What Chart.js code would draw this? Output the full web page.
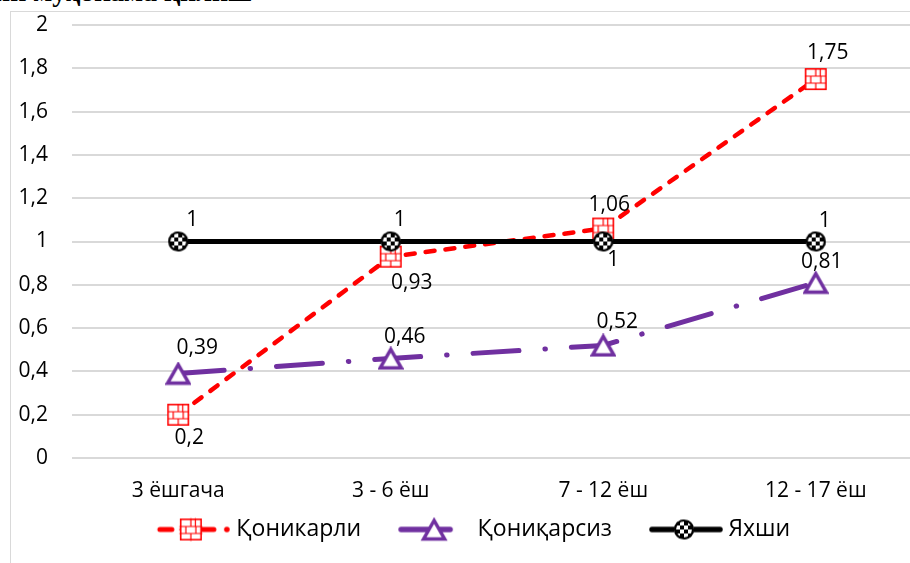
<!DOCTYPE html>
<html><head><meta charset="utf-8">
<script src="https://cdn.jsdelivr.net/npm/chart.js@4.4.1/dist/chart.umd.min.js"></script>
<style>
html,body{margin:0;padding:0;width:910px;height:563px;overflow:hidden;background:#fff;}
#title{position:absolute;left:-6px;top:-22px;font:bold 28px "Liberation Serif",serif;color:#000;white-space:nowrap;line-height:28px;}
#frame{position:absolute;left:10px;top:11px;width:960px;height:600px;border-left:1.5px solid #d9d9d9;border-top:1.5px solid #d9d9d9;}
#wrap{position:absolute;left:0;top:0;width:940px;height:563px;}
</style></head><body>
<div id="title">ни муҳокама қилиш</div>
<div id="frame"></div>
<div id="wrap"><canvas id="c" width="940" height="563"></canvas></div>
<script>
// ---- data ----
const categories = ['3 ёшгача', '3 - 6 ёш', '7 - 12 ёш', '12 - 17 ёш'];
const seriesNames = ['Қоникарли', 'Қониқарсиз', 'Яхши'];
const satisfactory = [0.2, 0.93, 1.06, 1.75];
const unsatisfactory = [0.39, 0.46, 0.52, 0.81];
const good = [1, 1, 1, 1];
const yTickLabels = ['0', '0,2', '0,4', '0,6', '0,8', '1', '1,2', '1,4', '1,6', '1,8', '2'];

const FONT = '"Open Sans", "Noto Sans", sans-serif';
const RED = '#ff0000', PURPLE = '#7030a0', BLACK = '#000000';

function mk(w, h) { const c = document.createElement('canvas'); c.width = w; c.height = h; return c; }

function drawRed(g, cx, cy) {
  const s = 22, x = cx - s / 2, y = cy - s / 2;
  g.save();
  g.fillStyle = '#fff'; g.fillRect(x, y, s, s);
  g.strokeStyle = RED; g.lineWidth = 1.6; g.setLineDash([]);
  g.strokeRect(x + 0.8, y + 0.8, s - 1.6, s - 1.6);
  g.lineWidth = 1.2;
  g.beginPath();
  g.moveTo(x, y + 8); g.lineTo(x + s, y + 8);
  g.moveTo(x, y + 15); g.lineTo(x + s, y + 15);
  g.moveTo(x + 11, y); g.lineTo(x + 11, y + 8);
  g.moveTo(x + 15.5, y); g.lineTo(x + 15.5, y + 8);
  g.moveTo(x + 6, y + 8); g.lineTo(x + 6, y + 15);
  g.moveTo(x + 16, y + 8); g.lineTo(x + 16, y + 15);
  g.moveTo(x + 11, y + 15); g.lineTo(x + 11, y + s);
  g.stroke();
  g.restore();
}
function drawPurple(g, cx, cy) {
  g.save();
  g.setLineDash([]);
  g.beginPath();
  g.moveTo(cx, cy - 9); g.lineTo(cx - 10.5, cy + 9.5); g.lineTo(cx + 10.5, cy + 9.5); g.closePath();
  g.fillStyle = '#fff'; g.fill();
  g.strokeStyle = PURPLE; g.lineWidth = 3.5; g.lineJoin = 'miter'; g.stroke();
  g.restore();
}
function drawBlack(g, cx, cy) {
  const r = 10;
  g.save();
  g.setLineDash([]);
  g.beginPath(); g.arc(cx, cy, r, 0, Math.PI * 2);
  g.fillStyle = '#fff'; g.fill();
  g.save(); g.clip();
  g.fillStyle = '#000';
  for (let i = -3; i < 3; i++) for (let j = -3; j < 3; j++) {
    if ((i + j) % 2 === 0) g.fillRect(cx + i * 4, cy + j * 4, 4, 4);
  }
  g.restore();
  g.beginPath(); g.arc(cx, cy, r - 1, 0, Math.PI * 2);
  g.strokeStyle = '#000'; g.lineWidth = 2.2; g.stroke();
  g.restore();
}

const redImg = mk(24, 24); drawRed(redImg.getContext('2d'), 12, 12);
const purpleImg = mk(26, 24); drawPurple(purpleImg.getContext('2d'), 13, 12);
const blackImg = mk(24, 24); drawBlack(blackImg.getContext('2d'), 12, 12);

// legend samples: visible 74px sample drawn at the right end of a wider transparent canvas
const LEG_W = 105, SAMPLE_X = LEG_W - 74;
const redLeg = mk(LEG_W, 26); (function () {
  const g = redLeg.getContext('2d'); g.strokeStyle = RED; g.lineWidth = 5; g.lineCap = 'round';
  const o = SAMPLE_X;
  g.beginPath(); g.moveTo(o + 3, 13); g.lineTo(o + 15, 13); g.moveTo(o + 25, 13); g.lineTo(o + 57, 13); g.stroke();
  g.beginPath(); g.arc(o + 70, 13, 2.8, 0, Math.PI * 2); g.fillStyle = RED; g.fill();
  drawRed(g, o + 34, 13);
})();
const purpleLeg = mk(LEG_W, 26); (function () {
  const g = purpleLeg.getContext('2d'); g.strokeStyle = PURPLE; g.lineWidth = 5.5; g.lineCap = 'round';
  const o = SAMPLE_X;
  g.beginPath(); g.moveTo(o + 3, 13); g.lineTo(o + 52, 13); g.stroke();
  drawPurple(g, o + 36, 13);
})();
const blackLeg = mk(LEG_W, 26); (function () {
  const g = blackLeg.getContext('2d'); g.strokeStyle = BLACK; g.lineWidth = 5.5; g.lineCap = 'round';
  const o = SAMPLE_X;
  g.beginPath(); g.moveTo(o + 3, 13); g.lineTo(o + 71, 13); g.stroke();
  drawBlack(g, o + 35, 13);
})();
const legendImgs = [redLeg, purpleLeg, blackLeg];

// label offsets (dx, dy) relative to each point
const labelOffsets = [
  [[11, 23], [21, 26], [6, -23], [12, -26]],
  [[19, -26], [14, -21], [14, -23], [6, -21]],
  [[14, -21], [9, -21], [10, 19], [9, -20]]
];

const dataLabels = {
  id: 'dataLabels',
  afterDatasetsDraw(chart) {
    const ctx = chart.ctx;
    ctx.save();
    ctx.font = '21px ' + FONT;
    ctx.fillStyle = '#000';
    ctx.textAlign = 'center';
    ctx.textBaseline = 'middle';
    chart.data.datasets.forEach((ds, di) => {
      const meta = chart.getDatasetMeta(di);
      meta.data.forEach((pt, i) => {
        const v = ds.data[i];
        const t = String(v).replace('.', ',');
        const o = labelOffsets[di][i];
        ctx.fillText(t, pt.x + o[0], pt.y + o[1]);
      });
    });
    ctx.restore();
  }
};

new Chart(document.getElementById('c'), {
  type: 'line',
  data: {
    labels: categories,
    datasets: [
      { label: seriesNames[0], data: satisfactory, borderColor: RED, borderWidth: 4.5,
        borderDash: [9, 11], borderCapStyle: 'round', pointStyle: redImg, pointRadius: 11, order: 1 },
      { label: seriesNames[1], data: unsatisfactory, borderColor: PURPLE, borderWidth: 5,
        borderDash: [46, 26, 0.5, 26], borderCapStyle: 'round', pointStyle: purpleImg, pointRadius: 11, order: 2 },
      { label: seriesNames[2], data: good, borderColor: BLACK, borderWidth: 5,
        pointStyle: blackImg, pointRadius: 11, order: 0 }
    ]
  },
  options: {
    responsive: false,
    animation: false,
    devicePixelRatio: 1,
    layout: { padding: { top: 25, right: 18, bottom: 12, left: 0 } },
    elements: { line: { tension: 0, fill: false } },
    scales: {
      x: {
        offset: true,
        grid: { display: false, drawTicks: false, offset: true },
        border: { display: false },
        ticks: { font: { family: FONT, size: 21 }, color: '#000', padding: 20 },
        afterFit(s) { s.height = 48; }
      },
      y: {
        min: 0, max: 2,
        grid: { color: '#d9d9d9', lineWidth: 2, drawTicks: false },
        border: { display: false },
        ticks: {
          stepSize: 0.2,
          font: { family: FONT, size: 21 }, color: '#000', padding: 24,
          callback: (v, i) => yTickLabels[i]
        },
        afterFit(s) { s.width = 72; s.paddingTop = 0; s.paddingBottom = 0; }
      }
    },
    plugins: {
      tooltip: { enabled: false },
      legend: {
        position: 'bottom',
        labels: {
          font: { family: FONT, size: 23 }, color: '#000',
          usePointStyle: true, pointStyleWidth: 93, boxHeight: 22, padding: 12,
          generateLabels(chart) {
            return chart.data.datasets.map((ds, i) => ({
              text: ds.label, pointStyle: legendImgs[i], datasetIndex: i,
              fillStyle: 'transparent', strokeStyle: 'transparent', lineWidth: 0, hidden: false
            }));
          }
        }
      }
    }
  },
  plugins: [dataLabels]
});
</script>
</body></html>
